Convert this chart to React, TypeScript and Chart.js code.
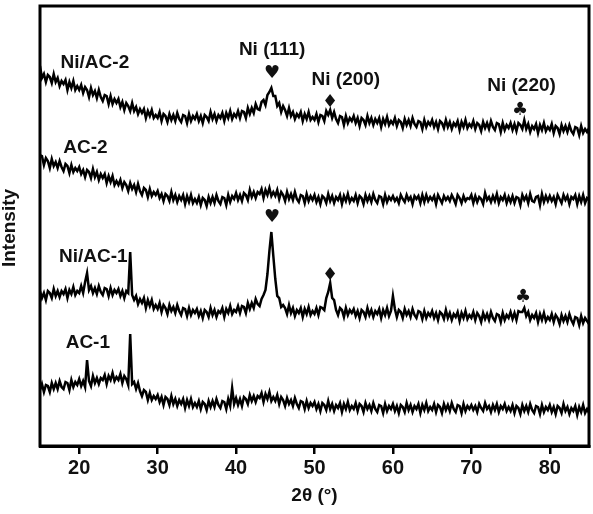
import React, { useEffect, useRef } from "react";
import { Chart, registerables } from "chart.js";
Chart.register(...registerables);

// 2θ positions (degrees), 0.25° step
const twoTheta = [
  15, 15.25, 15.5, 15.75, 16, 16.25, 16.5, 16.75, 17, 17.25, 17.5, 17.75, 18, 18.25, 18.5, 18.75, 19, 19.25, 19.5, 19.75,
  20, 20.25, 20.5, 20.75, 21, 21.25, 21.5, 21.75, 22, 22.25, 22.5, 22.75, 23, 23.25, 23.5, 23.75, 24, 24.25, 24.5, 24.75,
  25, 25.25, 25.5, 25.75, 26, 26.25, 26.5, 26.75, 27, 27.25, 27.5, 27.75, 28, 28.25, 28.5, 28.75, 29, 29.25, 29.5, 29.75,
  30, 30.25, 30.5, 30.75, 31, 31.25, 31.5, 31.75, 32, 32.25, 32.5, 32.75, 33, 33.25, 33.5, 33.75, 34, 34.25, 34.5, 34.75,
  35, 35.25, 35.5, 35.75, 36, 36.25, 36.5, 36.75, 37, 37.25, 37.5, 37.75, 38, 38.25, 38.5, 38.75, 39, 39.25, 39.5, 39.75,
  40, 40.25, 40.5, 40.75, 41, 41.25, 41.5, 41.75, 42, 42.25, 42.5, 42.75, 43, 43.25, 43.5, 43.75, 44, 44.25, 44.5, 44.75,
  45, 45.25, 45.5, 45.75, 46, 46.25, 46.5, 46.75, 47, 47.25, 47.5, 47.75, 48, 48.25, 48.5, 48.75, 49, 49.25, 49.5, 49.75,
  50, 50.25, 50.5, 50.75, 51, 51.25, 51.5, 51.75, 52, 52.25, 52.5, 52.75, 53, 53.25, 53.5, 53.75, 54, 54.25, 54.5, 54.75,
  55, 55.25, 55.5, 55.75, 56, 56.25, 56.5, 56.75, 57, 57.25, 57.5, 57.75, 58, 58.25, 58.5, 58.75, 59, 59.25, 59.5, 59.75,
  60, 60.25, 60.5, 60.75, 61, 61.25, 61.5, 61.75, 62, 62.25, 62.5, 62.75, 63, 63.25, 63.5, 63.75, 64, 64.25, 64.5, 64.75,
  65, 65.25, 65.5, 65.75, 66, 66.25, 66.5, 66.75, 67, 67.25, 67.5, 67.75, 68, 68.25, 68.5, 68.75, 69, 69.25, 69.5, 69.75,
  70, 70.25, 70.5, 70.75, 71, 71.25, 71.5, 71.75, 72, 72.25, 72.5, 72.75, 73, 73.25, 73.5, 73.75, 74, 74.25, 74.5, 74.75,
  75, 75.25, 75.5, 75.75, 76, 76.25, 76.5, 76.75, 77, 77.25, 77.5, 77.75, 78, 78.25, 78.5, 78.75, 79, 79.25, 79.5, 79.75,
  80, 80.25, 80.5, 80.75, 81, 81.25, 81.5, 81.75, 82, 82.25, 82.5, 82.75, 83, 83.25, 83.5, 83.75, 84, 84.25, 84.5, 84.75,
  85,
];

// Intensities (arbitrary units, patterns stacked with offsets)
const niAc2 = [
  380, 368, 372, 364, 371, 369, 363, 372, 364, 368, 360, 365, 362, 366, 356, 364, 358, 365, 356, 360,
  356, 361, 353, 359, 356, 349, 358, 351, 355, 348, 356, 349, 345, 351, 350, 342, 350, 342, 347, 343,
  347, 339, 344, 336, 343, 340, 335, 343, 335, 339, 332, 337, 333, 337, 328, 335, 330, 336, 328, 331,
  328, 334, 325, 332, 330, 324, 332, 326, 331, 325, 333, 327, 324, 331, 330, 323, 332, 325, 330, 327,
  332, 325, 330, 323, 331, 329, 325, 334, 327, 332, 325, 331, 328, 333, 325, 333, 328, 335, 327, 332,
  329, 335, 328, 335, 334, 328, 338, 332, 338, 333, 342, 337, 336, 344, 346, 341, 351, 354, 358, 350,
  350, 340, 343, 334, 340, 336, 330, 338, 330, 334, 327, 332, 329, 334, 325, 332, 327, 334, 326, 329,
  326, 332, 324, 331, 330, 325, 335, 331, 336, 328, 334, 327, 323, 330, 329, 321, 330, 323, 328, 325,
  330, 323, 328, 320, 328, 326, 321, 330, 323, 328, 321, 327, 323, 328, 319, 327, 322, 329, 321, 325,
  322, 328, 320, 326, 324, 318, 327, 321, 326, 320, 328, 322, 319, 325, 324, 317, 326, 319, 324, 321,
  326, 319, 324, 317, 325, 323, 318, 326, 319, 324, 317, 323, 320, 325, 316, 324, 319, 326, 318, 322,
  319, 325, 317, 323, 321, 315, 324, 318, 323, 317, 325, 319, 316, 323, 322, 314, 323, 316, 321, 318,
  323, 316, 322, 315, 323, 321, 317, 326, 317, 322, 314, 320, 317, 322, 313, 321, 316, 323, 315, 319,
  316, 322, 313, 320, 318, 312, 321, 315, 320, 314, 321, 315, 312, 319, 318, 311, 320, 313, 317, 314,
  318,
];

const ac2 = [
  291, 290, 281, 288, 285, 278, 287, 280, 284, 278, 285, 279, 275, 282, 280, 273, 281, 274, 278, 275,
  279, 272, 276, 269, 276, 274, 268, 277, 269, 274, 266, 272, 268, 272, 263, 270, 264, 270, 261, 265,
  261, 266, 258, 264, 261, 255, 263, 257, 261, 254, 262, 255, 251, 258, 256, 249, 257, 250, 254, 251,
  255, 248, 252, 245, 252, 250, 245, 254, 246, 251, 244, 250, 246, 251, 242, 250, 244, 251, 243, 247,
  243, 249, 241, 248, 246, 240, 249, 243, 249, 243, 251, 245, 242, 249, 248, 241, 251, 244, 250, 247,
  253, 246, 251, 245, 253, 251, 246, 256, 249, 254, 248, 254, 252, 257, 248, 256, 251, 258, 250, 254,
  250, 256, 247, 254, 251, 245, 254, 247, 252, 246, 254, 247, 244, 251, 250, 243, 252, 245, 250, 246,
  251, 244, 249, 242, 250, 248, 243, 252, 245, 250, 243, 249, 246, 251, 242, 250, 245, 252, 244, 248,
  245, 251, 243, 250, 248, 242, 251, 245, 250, 244, 252, 246, 243, 250, 249, 242, 251, 244, 249, 246,
  250, 245, 248, 243, 251, 247, 244, 251, 246, 249, 242, 250, 247, 250, 243, 251, 244, 251, 245, 249,
  246, 250, 242, 251, 247, 243, 250, 246, 249, 245, 251, 247, 242, 251, 248, 243, 250, 245, 248, 247,
  251, 243, 250, 244, 249, 247, 242, 253, 246, 249, 244, 250, 245, 252, 243, 249, 246, 251, 243, 249,
  244, 250, 243, 249, 248, 241, 251, 246, 250, 243, 252, 245, 244, 249, 250, 241, 252, 244, 250, 245,
  250, 245, 249, 242, 251, 247, 243, 251, 246, 250, 242, 249, 247, 251, 242, 250, 244, 251, 243, 248,
  246,
];

const niAc1 = [
  155, 148, 153, 146, 155, 153, 148, 157, 150, 155, 149, 155, 152, 157, 148, 156, 152, 159, 151, 155,
  153, 160, 153, 164, 173, 156, 160, 153, 158, 152, 160, 154, 151, 158, 157, 150, 158, 151, 156, 153,
  157, 150, 155, 148, 155, 153, 194, 151, 146, 150, 142, 147, 143, 148, 138, 146, 140, 146, 137, 141,
  137, 143, 134, 141, 138, 132, 141, 135, 139, 133, 141, 135, 131, 138, 137, 130, 138, 131, 136, 133,
  137, 130, 135, 128, 136, 134, 129, 138, 131, 136, 129, 135, 133, 138, 129, 137, 133, 140, 132, 136,
  134, 140, 133, 140, 139, 133, 143, 137, 143, 138, 147, 142, 140, 147, 151, 156, 172, 195, 214, 190,
  167, 150, 148, 139, 141, 138, 132, 141, 133, 138, 130, 136, 133, 138, 129, 137, 132, 139, 131, 135,
  132, 138, 131, 139, 138, 136, 148, 154, 163, 148, 146, 136, 131, 138, 136, 129, 138, 131, 136, 133,
  137, 130, 135, 128, 136, 134, 129, 138, 131, 136, 129, 135, 132, 137, 128, 136, 131, 138, 130, 135,
  150, 137, 129, 136, 134, 128, 137, 131, 135, 129, 137, 131, 128, 135, 134, 127, 135, 128, 133, 130,
  135, 128, 133, 126, 134, 132, 127, 136, 128, 133, 126, 132, 129, 134, 125, 133, 128, 135, 127, 131,
  128, 134, 126, 133, 130, 124, 133, 127, 132, 126, 134, 128, 125, 132, 131, 124, 133, 126, 131, 128,
  134, 127, 133, 126, 135, 134, 134, 138, 130, 134, 126, 131, 128, 133, 124, 132, 126, 133, 125, 129,
  126, 132, 124, 131, 128, 122, 131, 125, 130, 124, 132, 126, 122, 129, 128, 121, 130, 123, 128, 125,
  122,
];

const ac1 = [
  56, 62, 54, 61, 60, 54, 63, 57, 63, 57, 65, 59, 57, 64, 63, 56, 66, 59, 64, 61,
  67, 60, 65, 59, 86, 65, 60, 70, 63, 68, 62, 68, 66, 71, 62, 70, 66, 73, 65, 69,
  66, 72, 63, 70, 67, 61, 112, 62, 64, 57, 63, 55, 50, 56, 54, 46, 53, 46, 50, 47,
  51, 44, 49, 41, 49, 47, 41, 50, 42, 47, 40, 46, 42, 47, 38, 46, 40, 47, 39, 43,
  39, 45, 37, 44, 42, 36, 45, 39, 45, 39, 47, 41, 38, 45, 44, 37, 47, 40, 58, 42,
  48, 41, 47, 40, 49, 47, 42, 51, 45, 50, 44, 50, 48, 53, 44, 52, 47, 54, 45, 49,
  45, 51, 42, 49, 46, 40, 48, 42, 46, 40, 48, 42, 38, 45, 44, 37, 45, 38, 43, 40,
  44, 37, 42, 35, 43, 41, 36, 45, 37, 42, 35, 41, 38, 43, 34, 42, 37, 44, 36, 40,
  37, 43, 35, 42, 40, 34, 43, 37, 41, 35, 43, 37, 34, 41, 40, 33, 42, 35, 40, 37,
  42, 35, 40, 33, 41, 39, 34, 43, 36, 41, 34, 40, 37, 42, 33, 41, 36, 43, 35, 39,
  36, 42, 34, 41, 39, 33, 42, 36, 41, 35, 43, 37, 34, 41, 40, 33, 42, 35, 40, 37,
  41, 36, 40, 34, 42, 38, 35, 43, 37, 40, 34, 41, 36, 42, 34, 40, 37, 42, 35, 39,
  35, 41, 33, 40, 38, 32, 41, 35, 40, 34, 42, 36, 33, 40, 39, 32, 41, 34, 39, 36,
  41, 34, 39, 32, 40, 38, 33, 42, 35, 39, 32, 38, 35, 40, 31, 39, 34, 41, 33, 37,
  33,
];

const xTicks = [20, 30, 40, 50, 60, 70, 80];

const sampleLabels = ["Ni/AC-2", "AC-2", "Ni/AC-1", "AC-1"];
const sampleLabelX = [22.0, 20.8, 21.8, 21.1];
const sampleLabelY = [383, 298, 189, 103];

const peakLabels = ["Ni (111)", "Ni (200)", "Ni (220)"];
const peakLabelX = [44.6, 54.0, 76.4];
const peakLabelY = [396, 366, 360];

const markerGlyphs = ["\u2665", "\u2666", "\u2663", "\u2665", "\u2666", "\u2663"];
const markerX = [44.6, 52.0, 76.2, 44.6, 52.0, 76.6];
const markerY = [373, 344, 336, 229, 171, 149];

const FONT = "'Liberation Sans', Arial, sans-serif";

export default function App() {
  const ref = useRef<HTMLCanvasElement>(null);

  useEffect(() => {
    if (!ref.current) return;
    const mk = (vals: number[]) => ({
      data: vals.map((y, i) => ({ x: twoTheta[i], y })),
      borderColor: "#000",
      borderWidth: 2.5,
      pointRadius: 0,
      tension: 0,
      fill: false,
    });

    const overlay = {
      id: "overlay",
      afterDraw(chart: any) {
        const { ctx, chartArea, scales } = chart;
        const xs = scales.x;
        const ys = scales.y;
        ctx.save();
        ctx.strokeStyle = "#000";
        ctx.lineWidth = 3;
        ctx.strokeRect(
          chartArea.left,
          chartArea.top,
          chartArea.right - chartArea.left,
          chartArea.bottom - chartArea.top
        );
        ctx.fillStyle = "#111";
        ctx.textAlign = "center";
        ctx.textBaseline = "middle";
        ctx.font = `bold 19px ${FONT}`;
        sampleLabels.forEach((t, i) => {
          ctx.fillText(t, xs.getPixelForValue(sampleLabelX[i]), ys.getPixelForValue(sampleLabelY[i]));
        });
        peakLabels.forEach((t, i) => {
          ctx.fillText(t, xs.getPixelForValue(peakLabelX[i]), ys.getPixelForValue(peakLabelY[i]));
        });
        ctx.font = `18px 'DejaVu Sans', sans-serif`;
        markerGlyphs.forEach((g, i) => {
          ctx.fillText(g, xs.getPixelForValue(markerX[i]), ys.getPixelForValue(markerY[i]));
        });
        ctx.font = `bold 19px ${FONT}`;
        ctx.fillText("2\u03b8 (\u00b0)", (chartArea.left + chartArea.right) / 2, 496);
        ctx.translate(10, (chartArea.top + chartArea.bottom) / 2 + 2);
        ctx.rotate(-Math.PI / 2);
        ctx.fillText("Intensity", 0, 0);
        ctx.restore();
      },
    };

    const chart = new Chart(ref.current, {
      type: "line",
      data: { datasets: [mk(niAc2), mk(ac2), mk(niAc1), mk(ac1)] },
      options: {
        animation: false,
        responsive: false,
        layout: { padding: { left: 40, right: 4, top: 6, bottom: 0 } },
        plugins: { legend: { display: false }, tooltip: { enabled: false } },
        scales: {
          x: {
            type: "linear",
            min: 15,
            max: 85,
            afterBuildTicks: (s: any) => {
              s.ticks = xTicks.map((v) => ({ value: v }));
            },
            afterFit: (s: any) => {
              s.height = 68;
            },
            ticks: {
              font: { family: FONT, size: 20, weight: "bold" },
              color: "#111",
              padding: 2,
              maxRotation: 0,
            },
            grid: {
              drawOnChartArea: false,
              drawTicks: true,
              tickLength: 8,
              color: "#000",
              lineWidth: 2.5,
            },
            border: { display: true, color: "#000", width: 3 },
          },
          y: { display: false, min: 0, max: 440 },
        },
      },
      plugins: [overlay],
    } as any);
    return () => chart.destroy();
  }, []);

  return (
    <div style={{ position: "fixed", left: 0, top: 0, width: 593, height: 514, background: "#fff" }}>
      <canvas ref={ref} width={593} height={514} />
    </div>
  );
}
